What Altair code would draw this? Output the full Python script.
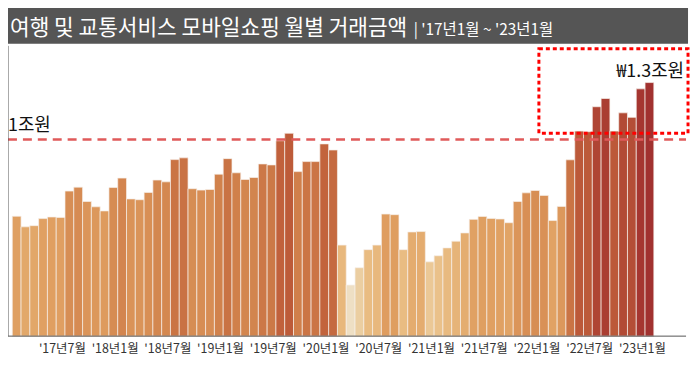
import altair as alt
import pandas as pd

# ---- data ----
values = [0.610, 0.556, 0.562, 0.598, 0.606, 0.604, 0.738, 0.758, 0.685, 0.658,
          0.637, 0.756, 0.804, 0.698, 0.694, 0.731, 0.794, 0.785, 0.898, 0.907,
          0.750, 0.743, 0.746, 0.824, 0.903, 0.831, 0.797, 0.807, 0.876, 0.871,
          0.994, 1.032, 0.837, 0.888, 0.888, 0.978, 0.947, 0.463, 0.260, 0.348,
          0.440, 0.463, 0.621, 0.618, 0.440, 0.530, 0.532, 0.378, 0.409, 0.449,
          0.483, 0.525, 0.594, 0.609, 0.599, 0.596, 0.577, 0.685, 0.729, 0.741,
          0.716, 0.588, 0.660, 0.897, 1.043, 1.040, 1.167, 1.209, 1.043, 1.136,
          1.113, 1.258, 1.290]
tick_labels = ["'17년7월", "'18년1월", "'18년7월", "'19년1월", "'19년7월", "'20년1월",
               "'20년7월", "'21년1월", "'21년7월", "'22년1월", "'22년7월", "'23년1월"]
tick_index = [6, 12, 18, 24, 30, 36, 42, 48, 54, 60, 66, 72]
title_text = "여행 및 교통서비스 모바일쇼핑 월별 거래금액"
subtitle_text = "| '17년1월 ~ '23년1월"
ref_value = 1.0
ref_label = "1조원"
peak_label = "₩1.3조원"

color_domain = [0.26, 0.42, 0.60, 0.80, 1.00, 1.30]
color_range = ["#EEDFC4", "#EABF86", "#E0A062", "#D3864F", "#C0603B", "#A02F2F"]

FONT = "Noto Sans CJK KR"
W, H = 684, 328

df = pd.DataFrame({"i": list(range(len(values))), "v": values})
df["i2"] = df["i"] + 1
ticks_df = pd.DataFrame({"pos": [t - 0.3 for t in tick_index], "label": tick_labels})
one = alt.Data(values=[{}])

xscale = alt.Scale(domain=[-0.486, 76.89], nice=False, zero=False)
yscale = alt.Scale(domain=[0, 1.659], nice=False, zero=False)

bars = alt.Chart(df).mark_rect(stroke="#F6EFEA", strokeWidth=0.7).encode(
    x=alt.X("i:Q", scale=xscale, axis=None),
    x2="i2:Q",
    y=alt.Y("v:Q", scale=yscale, axis=None),
    y2=alt.datum(0),
    color=alt.Color("v:Q", scale=alt.Scale(domain=color_domain, range=color_range),
                    legend=None),
)

ticks = alt.Chart(ticks_df).mark_text(font=FONT, fontSize=12.5, color="#333333",
                                      baseline="middle").encode(
    x=alt.X("pos:Q", scale=xscale, axis=None),
    y=alt.value(H + 13),
    text="label:N",
)

left_axis = alt.Chart(one).mark_rule(color="#555555", strokeWidth=1).encode(
    x=alt.value(0), y=alt.value(36), y2=alt.value(H))
bottom_axis = alt.Chart(one).mark_rule(color="#555555", strokeWidth=1).encode(
    x=alt.value(0), x2=alt.value(682), y=alt.value(H))

ref_line = alt.Chart(one).mark_rule(color="#E05A5A", strokeWidth=2.5,
                                    strokeDash=[9, 6]).encode(
    y=alt.YDatum(ref_value, scale=yscale), x=alt.value(0), x2=alt.value(682))

ref_text = alt.Chart(one).mark_text(font=FONT, fontSize=18, color="#111111",
                                    align="left", baseline="middle").encode(
    x=alt.value(0), y=alt.value(117), text=alt.value(ref_label))

box = alt.Chart(one).mark_rect(fill=None, stroke="#FF0000", strokeWidth=3,
                               strokeDash=[4, 3]).encode(
    x=alt.value(534), x2=alt.value(684), y=alt.value(39), y2=alt.value(124))

peak_text = alt.Chart(one).mark_text(font=FONT, fontSize=18, color="#111111",
                                     align="right", baseline="middle").encode(
    x=alt.value(680), y=alt.value(62), text=alt.value(peak_label))

title_bg = alt.Chart(one).mark_rect(color="#555555").encode(
    x=alt.value(0), x2=alt.value(684), y=alt.value(-2), y2=alt.value(34))

title = alt.Chart(one).mark_text(font=FONT, fontSize=21.5, color="white",
                                 align="left", baseline="alphabetic").encode(
    x=alt.value(2), y=alt.value(25), text=alt.value(title_text))

subtitle = alt.Chart(one).mark_text(font=FONT, fontSize=15.5, color="white",
                                    align="left", baseline="alphabetic").encode(
    x=alt.value(408), y=alt.value(25), text=alt.value(subtitle_text))

chart = alt.layer(
    bars, ref_line, left_axis, bottom_axis, ticks, ref_text, box, peak_text,
    title_bg, title, subtitle,
).properties(
    width=W, height=H,
    autosize=alt.AutoSizeParams(type="none"),
    padding={"left": 0, "top": 1, "right": 4, "bottom": 30},
    background="white",
).configure_view(stroke=None)

chart.save("out.html", embed_options={"renderer": "svg", "actions": False})
